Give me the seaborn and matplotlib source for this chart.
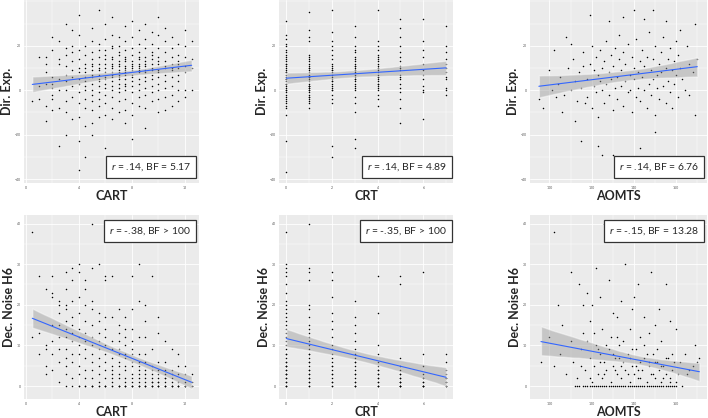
import numpy as np
import pandas as pd
import matplotlib
matplotlib.use('Agg')
import matplotlib.pyplot as plt
import seaborn as sns
from matplotlib.ticker import AutoMinorLocator

# CART score -> Dir. Exp. values in that column
CART_DIR_EXP = {
    0.5: [-5],
    1.0: [15, 2, -4],
    1.5: [3, -7, -14, 8, 15, 12],
    2.0: [24, 18, 3, 1, -2, -4, -9, 6],
    2.5: [22, 5, -25, 12, -8, 0, 14],
    3.0: [30, 16, 19, 11, 7, 0, -5, -10, -20, 4],
    3.5: [27, 20, 17, 9, 2, -3, -13, 6, 13],
    4.0: [34, 25, 14, 10, 5, 3, -1, -6, -12, -23, 8, 18, -36],
    4.5: [20, 16, 12, 8, 4, 0, -4, -8, -16, 6, 10, 2, -30],
    5.0: [28, 22, 17, 14, 11, 9, 6, 3, 0, -2, -5, -9, -15, 7, 12, -20],
    5.5: [36, 21, 15, 12, 9, 7, 5, 2, -1, -4, -7, -12, 18, 4, 10],
    6.0: [30, 23, 18, 14, 10, 8, 6, 3, 1, -2, -6, -11, -26, 12, 5, 16],
    6.5: [33, 25, 19, 15, 12, 10, 8, 6, 4, 2, 0, -3, -8, -13, 14, 7, 11, 20],
    7.0: [24, 20, 16, 13, 11, 9, 7, 5, 3, 1, -1, -5, -10, 17, 8, 12, 6],
    7.5: [29, 22, 18, 15, 13, 11, 9, 7, 5, 3, 0, -4, -9, -15, 10, 14, 8, 2],
    8.0: [31, 24, 19, 16, 13, 11, 9, 7, 4, 2, -1, -6, -11, -22, 12, 6, 10],
    8.5: [27, 21, 17, 14, 12, 10, 8, 5, 3, 0, -3, -7, 15, 9, 11],
    9.0: [30, 23, 19, 15, 13, 11, 8, 6, 4, 1, -2, -8, -17, 12, 9],
    9.5: [26, 21, 17, 14, 12, 10, 7, 5, 2, -1, -5, 16, 9],
    10.0: [33, 25, 19, 15, 12, 9, 6, 3, 0, -4, -10, 13, 8],
    10.5: [28, 22, 17, 13, 10, 7, 4, 1, -3, -9, 11],
    11.0: [24, 19, 15, 12, 9, 6, 2, -2, -7, 10],
    11.5: [21, 16, 13, 10, 7, 4, 0, -5, 12],
    12.0: [27, 20, 15, 11, 8, 0, -3],
    12.5: [22, 14, 0, 10],
}

# CRT score -> Dir. Exp. values
CRT_DIR_EXP = {
    0: [31, 25, 23, 21, 20, 18, 17, 16, 15, 14, 13, 12, 11, 10, 9, 8, 7, 6, 5, 4,
        3, 2, 1, 0, -1, -2, -3, -4, -5, -6, -7, -8, -11, -23, -37, 12, 8, 5, 3, 0],
    1: [35, 27, 24, 22, 2, 1, -3, 16, 15, 14, 13, 12, 11, 10, 9, 8, 7, 6, 5, 4,
        3, 2, 1, 0, -1, -2, -3, -4, -5, -6, -8, 10, 6, 2, 0],
    2: [36, 26, 22, 20, 18, 16, 14, 12, 11, 10, 9, 8, 7, 6, 5, 4, 3, 2, 1, 0,
        -2, -4, -6, -25, -30, 9, 4, 0],
    3: [29, 24, 20, 17, 15, 13, 12, 11, 10, 9, 8, 7, 6, 5, 4, 3, 2, 1, 0, -3,
        -6, -10, -22, -26, 9, 5, 18, 14, 11],
    4: [36, 22, 20, 18, 16, 15, 14, 13, 12, 11, 10, 9, 8, 7, 6, 5, 4, 3, 2, 1,
        0, -2, -4, -7, 10, 6, 3],
    5: [32, 28, 24, 20, 17, 15, 13, 11, 9, 7, 5, 3, 1, -1, -4, -8, -15, 10, 6],
    6: [32, 22, 18, 15, 12, 9, 7, 5, 2, 0, -1, -13],
    7: [29, 20, 17, 14, 12, 10, 8, 5, 1, 0, -2, 6],
}

# (AOMTS, Dir. Exp.) pairs
AOMTS_DIR_EXP = [
    (95, -4), (102, 18), (108, 24), (119, 34), (140, 36), (149, 36), (169, 30),
    (169, -11), (125, -29), (123, -25), (143, -26), (130, -29), (115, -23),
    (150, -19), (164, 0), (104, 3), (100, 9), (106, -10), (111, 14), (113, -5),
    (160, 22), (158, -8), (166, 12), (162, 27), (155, 31), (145, 32), (135, 33),
    (128, 31), (105, 6), (107, -2), (109, 10), (110, 0), (112, 4), (112, -14),
    (114, 8), (115, 1), (116, 17), (117, -6), (110, 21), (116, 11),
    (97, -8), (103, -3), (101, 0),
    (118, 5), (118, -3), (119, 12), (120, 20), (120, -8), (121, 2), (121, 9),
    (122, 15), (122, -1), (123, 7), (123, -12), (124, 4), (124, 18), (125, 0),
    (125, 10), (126, -6), (126, 13), (127, 3), (127, 22), (128, 8), (128, -2),
    (129, 16), (129, 5), (130, -9), (130, 11), (131, 1), (131, 19), (132, 6),
    (132, -4), (133, 14), (133, 25), (134, 2), (134, 9), (135, -7), (135, 17),
    (136, 4), (136, 12), (137, -1), (137, 21), (138, 7), (138, 0), (139, 15),
    (139, -10), (140, 5), (140, 10), (141, -3), (141, 23), (142, 8), (142, 1),
    (143, 13), (143, -5), (144, 6), (144, 18), (145, 0), (145, 11), (146, -8),
    (146, 15), (147, 3), (147, 26), (148, 9), (148, -2), (149, 14), (149, 5),
    (150, -11), (150, 20), (151, 7), (151, 1), (152, 12), (152, -4), (153, 17),
    (153, 8), (154, 2), (154, 24), (155, 10), (155, -6), (156, 14), (156, 4),
    (157, 19), (157, -1), (158, 9), (159, 13), (159, 3), (160, 7), (161, 16),
    (161, -3), (162, 10), (163, 5), (165, 20), (166, -2), (168, 8), (170, 14),
]

# CART score -> Dec. Noise H6 values
CART_DEC_NOISE = {
    0.5: [38, 12],
    1.0: [27, 13, 8],
    1.5: [24, 10, 5, 3, 9],
    2.0: [27, 23, 22, 11, 8, 4, 15],
    2.5: [21, 20, 18, 15, 9, 6, 1, 12],
    3.0: [28, 24, 20, 19, 14, 12, 9, 5, 0, 16, 7, 3],
    3.5: [29, 26, 21, 17, 15, 11, 8, 6, 2, 0, 13],
    4.0: [30, 28, 22, 18, 14, 12, 10, 8, 5, 3, 0, 0],
    4.5: [26, 24, 20, 16, 13, 11, 9, 7, 4, 2, 0, 0],
    5.0: [40, 29, 21, 19, 15, 12, 10, 8, 6, 4, 2, 0, 0, 0],
    5.5: [30, 18, 16, 13, 11, 9, 7, 5, 3, 1, 0, 0],
    6.0: [27, 26, 17, 14, 12, 10, 8, 6, 4, 2, 0, 0, 0],
    6.5: [40, 27, 17, 11, 9, 7, 5, 3, 1, 0, 0, 4, 2],
    7.0: [19, 15, 13, 11, 9, 8, 6, 5, 3, 2, 0, 0, 0],
    7.5: [17, 14, 12, 10, 8, 7, 5, 4, 2, 1, 0, 0, 0],
    8.0: [27, 19, 14, 11, 9, 8, 6, 5, 3, 2, 1, 0, 0, 0],
    8.5: [30, 21, 12, 8, 6, 4, 2, 0, 0, 0, 1, 3, 5],
    9.0: [20, 16, 12, 8, 6, 4, 3, 1, 0, 0, 0, 2],
    9.5: [27, 9, 5, 4, 2, 1, 0, 0, 0, 3, 1],
    10.0: [17, 13, 6, 4, 3, 1, 0, 0, 0, 2, 1],
    10.5: [11, 6, 3, 2, 0, 0, 0, 1, 4, 2],
    11.0: [9, 4, 2, 1, 0, 0, 3, 0],
    11.5: [8, 5, 3, 1, 0, 0, 0],
    12.0: [5, 3, 1, 0, 0, 0],
    12.5: [3, 0, 0, 1],
}

# CRT score -> Dec. Noise H6 values
CRT_DEC_NOISE = {
    0: [38, 30, 29, 28, 27, 25, 23, 21, 20, 19, 18, 17, 16, 15, 14, 13, 12, 11, 10,
        9, 8, 7, 6, 5, 4, 3, 2, 1, 0, 0, 0, 6, 4, 8, 2, 5, 3, 1, 3, 5],
    1: [40, 29, 28, 26, 1, 3, 20, 19, 17, 15, 14, 13, 12, 11, 10, 9, 8, 7, 6, 5,
        4, 3, 2, 1, 0, 0, 8, 6, 4, 2],
    2: [28, 26, 22, 1, 18, 16, 14, 12, 10, 9, 8, 7, 6, 5, 4, 3, 2, 1, 0, 0, 5, 3],
    3: [21, 17, 15, 13, 11, 9, 8, 7, 6, 5, 4, 3, 2, 1, 0, 0, 6, 3, 0, 1],
    4: [27, 18, 10, 8, 6, 5, 4, 3, 2, 1, 0, 0, 4, 2, 0, 1, 3],
    5: [27, 25, 7, 5, 4, 3, 2, 1, 0, 0, 3, 1, 2, 0, 1, 0],
    6: [28, 8, 5, 3, 2, 1, 0, 0, 1, 0, 2, 0],
    7: [8, 6, 4, 3, 2, 1, 0, 0, 2, 0, 1],
}

# (AOMTS, Dec. Noise H6) pairs
AOMTS_DEC_NOISE = [
    (102, 38), (126, 40), (136, 30), (110, 28), (122, 29), (114, 25), (118, 23),
    (148, 28), (155, 25), (157, 16), (169, 10), (102, 5), (105, 8), (120, 20),
    (130, 18), (140, 22), (145, 17), (150, 15), (128, 26), (134, 21), (138, 14),
    (143, 12), (152, 19), (125, 14), (132, 12), (116, 13), (160, 14),
    (112, 0), (114, 0), (116, 0), (118, 0), (119, 0), (121, 0), (123, 0), (125, 0),
    (126, 0), (128, 0), (130, 0), (131, 0), (133, 0), (135, 0), (136, 0), (137, 0),
    (139, 0), (140, 0), (142, 0), (144, 0), (146, 0), (148, 0), (150, 0), (152, 0),
    (153, 0), (155, 0), (157, 0), (160, 0), (163, 0),
    (113, 0), (117, 0), (120, 0), (122, 0), (124, 0), (127, 0), (129, 0), (132, 0),
    (134, 0), (138, 0), (141, 0), (143, 0), (145, 0), (147, 0), (149, 0), (151, 0),
    (154, 0), (156, 0), (158, 0), (159, 0),
    (108, 3), (111, 6), (113, 2), (115, 9), (117, 4), (119, 7), (120, 1), (121, 5),
    (122, 10), (123, 3), (124, 8), (125, 2), (126, 6), (127, 4), (128, 9), (129, 1),
    (130, 5), (131, 7), (132, 3), (133, 10), (134, 2), (135, 6), (136, 4), (137, 8),
    (138, 1), (139, 5), (140, 3), (141, 9), (142, 2), (143, 6), (144, 4), (145, 7),
    (146, 1), (147, 5), (148, 3), (149, 8), (150, 2), (151, 6), (152, 4), (153, 1),
    (154, 5), (155, 3), (156, 7), (157, 2), (158, 4), (160, 1), (162, 6), (165, 3),
    (168, 5), (171, 7),
    (118, 11), (121, 13), (124, 6), (127, 10), (129, 12), (131, 4), (133, 7),
    (135, 11), (137, 3), (139, 9), (141, 5), (143, 2), (145, 10), (147, 6),
    (149, 3), (151, 9), (153, 5), (155, 7), (157, 1), (159, 6), (161, 3), (164, 8),
    (166, 4), (170, 6), (115, 5), (119, 2), (123, 9), (126, 3), (130, 8), (134, 5),
    (138, 7), (142, 4), (146, 8), (150, 6), (154, 2), (158, 8), (116, 20),
    (124, 22), (132, 17), (139, 19), (147, 13), (153, 11), (142, 25), (119, 16),
    (110, 11), (106, 15), (100, 12), (96, 6), (104, 20),
]

STATS = [
    '.14, BF = 5.17', '.14, BF = 4.89', '.14, BF = 6.76',
    '-.38, BF > 100', '-.35, BF > 100', '-.15, BF = 13.28',
]


def columns_to_frame(columns, xname, yname):
    rows = [(x, y) for x, ys in columns.items() for y in ys]
    return pd.DataFrame(rows, columns=[xname, yname])


def draw_panel(ax, df, xcol, ycol, xlim, ylim, xticks, yticks, stat, top_box):
    ax.set_facecolor('#EBEBEB')
    sns.scatterplot(data=df, x=xcol, y=ycol, ax=ax, s=1.2, color='black',
                    linewidth=0, zorder=3)
    sns.regplot(data=df, x=xcol, y=ycol, ax=ax, scatter=False, ci=95, seed=3,
                color='#3366FF', line_kws=dict(lw=0.8, zorder=5))
    band = ax.collections[-1]
    band.set_facecolor('#999999')
    band.set_alpha(0.45)
    band.set_zorder(4)

    ax.set_xlim(*xlim)
    ax.set_ylim(*ylim)
    ax.set_xticks(xticks)
    ax.set_yticks(yticks)
    ax.xaxis.set_minor_locator(AutoMinorLocator(2))
    ax.yaxis.set_minor_locator(AutoMinorLocator(2))
    ax.grid(True, which='major', color='white', lw=0.6)
    ax.grid(True, which='minor', color='white', lw=0.3)
    ax.set_axisbelow(True)
    for s in ax.spines.values():
        s.set_visible(False)
    ax.tick_params(which='major', labelsize=2.5, colors='#555555', length=1.5,
                   width=0.4, pad=1)
    ax.tick_params(which='minor', length=0)

    ax.set_xlabel(xcol, fontsize=9, fontweight='bold', labelpad=0)
    ax.set_ylabel(ycol, fontsize=9, fontweight='bold', labelpad=1)

    text = '$r$ = ' + stat
    box = dict(boxstyle='square,pad=0.5', fc='white', ec='#333333', lw=0.9)
    right = 0.955 if xcol != 'CRT' else 0.965
    if top_box:
        ax.text(right, 0.945, text, transform=ax.transAxes, ha='right', va='top',
                fontsize=7.5, bbox=box, zorder=6)
    else:
        ax.text(right, 0.055, text, transform=ax.transAxes, ha='right',
                va='bottom', fontsize=7.5, bbox=box, zorder=6)


sns.set_theme(style='darkgrid')
plt.rcParams['font.family'] = ['Lato', 'DejaVu Sans']
plt.rcParams['mathtext.fontset'] = 'custom'
plt.rcParams['mathtext.it'] = 'Lato:italic'
plt.rcParams['mathtext.rm'] = 'Lato'

cart_dir = columns_to_frame(CART_DIR_EXP, 'CART', 'Dir. Exp.')
crt_dir = columns_to_frame(CRT_DIR_EXP, 'CRT', 'Dir. Exp.')
aomts_dir = pd.DataFrame(AOMTS_DIR_EXP, columns=['AOMTS', 'Dir. Exp.'])
cart_noise = columns_to_frame(CART_DEC_NOISE, 'CART', 'Dec. Noise H6')
crt_noise = columns_to_frame(CRT_DEC_NOISE, 'CRT', 'Dec. Noise H6')
aomts_noise = pd.DataFrame(AOMTS_DEC_NOISE, columns=['AOMTS', 'Dec. Noise H6'])

fig = plt.figure(figsize=(7.08, 4.18), dpi=100)
W, H = 708, 418
lefts = [(24, 175), (279, 174), (530, 177)]
rows = [(0, 183), (215, 184)]

frames = [cart_dir, crt_dir, aomts_dir, cart_noise, crt_noise, aomts_noise]
xlims = [(-0.125, 13.05), (-0.32, 7.3), (90.8, 174.6)]
xticks = [[0, 4, 8, 12], [0, 2, 4, 6], [100, 120, 140, 160]]
ylims = [(-41.8, 40.6), (-3.2, 42.1)]
yticks = [[-40, -20, 0, 20], [0, 10, 20, 30, 40]]

for i, df in enumerate(frames):
    r, c = divmod(i, 3)
    x0, w = lefts[c]
    y0, h = rows[r]
    ax = fig.add_axes([x0 / W, (H - y0 - h) / H, w / W, h / H])
    draw_panel(ax, df, df.columns[0], df.columns[1], xlims[c], ylims[r],
               xticks[c], yticks[r], STATS[i], top_box=(r == 1))

fig.savefig('out.png', dpi=100)
